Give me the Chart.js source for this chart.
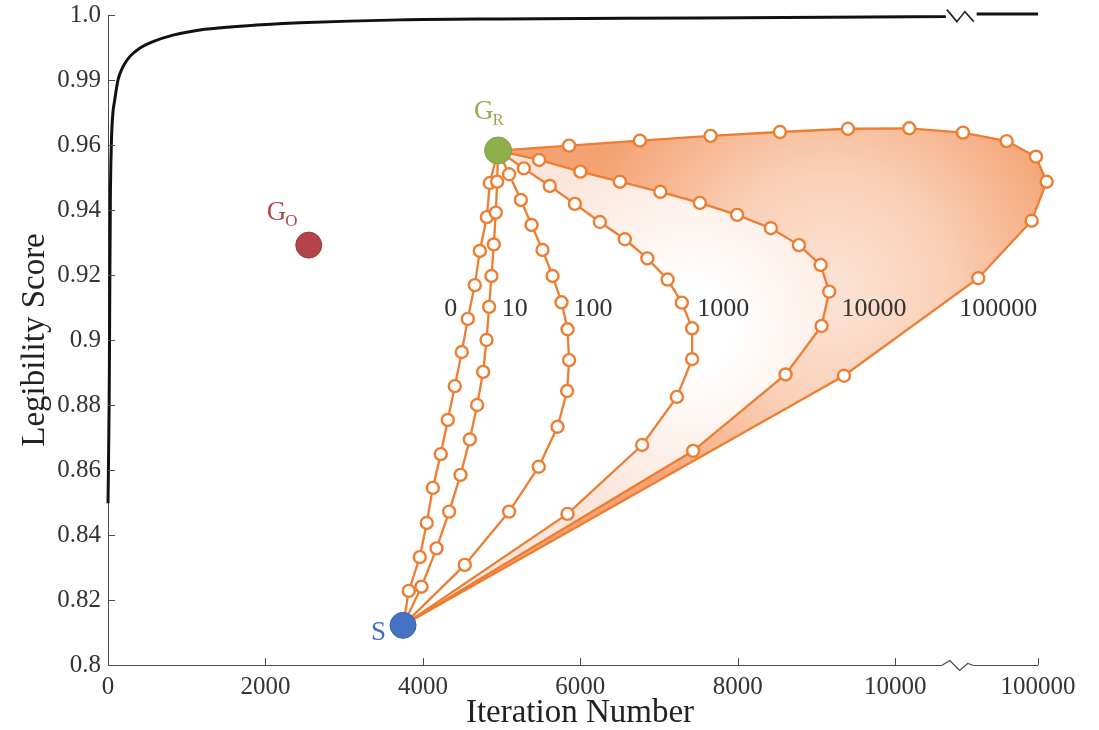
<!DOCTYPE html>
<html><head><meta charset="utf-8">
<script src="https://cdn.jsdelivr.net/npm/chart.js@4.4.1/dist/chart.umd.min.js"></script>
<style>html,body{margin:0;padding:0;background:#fff}#wrap{width:1099px;height:730px}</style>
</head><body><div id="wrap"><canvas id="c" width="1099" height="730"></canvas></div>
<script>
// ---------------- data ----------------
const sPoint  = [3748, 0.8122];
const gRPoint = [4955, 0.9583];
const gOPoint = [2550, 0.9292];

const curveLabels = ['0', '10', '100', '1000', '10000', '100000'];
const curveLabelX = [4354, 5168, 6162, 7814, 9729, 11308];
const curveLabelY = 0.9095;

const curve0X = [3821, 3960, 4049, 4126, 4227, 4316, 4405, 4494, 4570, 4659, 4723, 4812, 4850];
const curve0Y = [0.8228, 0.8332, 0.8437, 0.8545, 0.8649, 0.8754, 0.8858, 0.8963, 0.9065, 0.9169, 0.9274, 0.9378, 0.9483];
const curve10X = [3982, 4173, 4333, 4478, 4596, 4689, 4765, 4808, 4841, 4871, 4901, 4926, 4943];
const curve10Y = [0.8241, 0.8359, 0.8472, 0.8585, 0.8694, 0.8800, 0.8902, 0.9000, 0.9102, 0.9197, 0.9294, 0.9392, 0.9487];
const curve100X = [4532, 5095, 5472, 5710, 5832, 5857, 5837, 5761, 5647, 5519, 5380, 5244, 5095];
const curve100Y = [0.8308, 0.8472, 0.8610, 0.8733, 0.8843, 0.8938, 0.9033, 0.9116, 0.9197, 0.9277, 0.9354, 0.9431, 0.9510];
const curve1000X = [5837, 6785, 7226, 7420, 7420, 7289, 7108, 6851, 6565, 6248, 5930, 5612, 5282];
const curve1000Y = [0.8465, 0.8677, 0.8825, 0.8941, 0.9036, 0.9115, 0.9186, 0.9251, 0.9310, 0.9363, 0.9419, 0.9474, 0.9528];
const curve10000X = [7433, 8607, 9064, 9161, 9052, 8776, 8420, 7991, 7518, 7016, 6502, 6000, 5476];
const curve10000Y = [0.8659, 0.8894, 0.9043, 0.9149, 0.9231, 0.9292, 0.9344, 0.9385, 0.9422, 0.9456, 0.9487, 0.9518, 0.9554];
const curve100000X = [9348, 11054, 11733, 11923, 11787, 11415, 10860, 10178, 9399, 8535, 7654, 6756, 5857];
const curve100000Y = [0.8890, 0.9190, 0.9367, 0.9487, 0.9564, 0.9618, 0.9657, 0.9677, 0.9675, 0.9660, 0.9642, 0.9620, 0.9598];

const blackX = [0, 15, 22, 30, 43, 60, 85, 127, 191, 276, 403, 572, 826, 1165, 1588, 2013, 2436, 3706, 4977, 7518, 10643, 10800, 11034, 11813];
const blackY = [0.8498, 0.8815, 0.9123, 0.9431, 0.9609, 0.9738, 0.9807, 0.9900, 0.99205, 0.9936, 0.9949, 0.9959, 0.9969, 0.9977, 0.9982, 0.99855, 0.9988, 0.99925, 0.9994, 0.99955, 0.99975, null, 1.00015, 1.00015];

const yTickValues = [0.8, 0.82, 0.84, 0.86, 0.88, 0.9, 0.92, 0.94, 0.96, 0.99, 1.0];
const yTickLabels = ['0.8', '0.82', '0.84', '0.86', '0.88', '0.9', '0.92', '0.94', '0.96', '0.99', '1.0'];
const xTickValues = [0, 2000, 4000, 6000, 8000, 10000, 11813];
const xTickLabels = ['0', '2000', '4000', '6000', '8000', '10000', '100000'];
const xBreak = [10590, 10996];
const xAxisMax = 11991;

// ---------------- broken y scale (0.96-0.99 and 0.99-1.0 compressed) ----------------
function toU(v) { if (v <= 0.96) return v; if (v <= 0.99) return 0.96 + (v - 0.96) * 2 / 3; return 0.98 + (v - 0.99) * 2; }
function fromU(u) { if (u <= 0.96) return u; if (u <= 0.98) return 0.96 + (u - 0.96) * 1.5; return 0.99 + (u - 0.98) / 2; }
class BrokenY extends Chart.LinearScale {
  getPixelForValue(v) { return (v === null || v === undefined) ? NaN : super.getPixelForValue(toU(v)); }
  getValueForPixel(p) { return fromU(super.getValueForPixel(p)); }
}
BrokenY.id = 'brokenY';
BrokenY.defaults = Chart.LinearScale.defaults;
Chart.register(BrokenY);

// ---------------- styles ----------------
const ORANGE = '#ED7D31';
const AXIS = '#4a4a4a';
const FONT = 'Liberation Serif';

function pts(xs, ys) { return xs.map((x, i) => ({x: x, y: ys[i]})); }
function curvePts(xs, ys) { return [{x: sPoint[0], y: sPoint[1]}].concat(pts(xs, ys), [{x: gRPoint[0], y: gRPoint[1]}]); }

const curveXs = [curve0X, curve10X, curve100X, curve1000X, curve10000X, curve100000X];
const curveYs = [curve0Y, curve10Y, curve100Y, curve1000Y, curve10000Y, curve100000Y];

function radial(chart, cxv, cyv, r0, r1, stops) {
  const fallback = stops[stops.length - 1][1];
  const {x, y} = chart.scales;
  if (!x || !y) return fallback;
  const cx = x.getPixelForValue(cxv), cy = y.getPixelForValue(cyv);
  if (!isFinite(cx) || !isFinite(cy)) return fallback;
  const g = chart.ctx.createRadialGradient(cx, cy, r0, cx, cy, r1);
  stops.forEach(s => g.addColorStop(s[0], s[1]));
  return g;
}

const datasets = [];
// dense band between the 10000 and 100000 runs
const band = curvePts(curve10000X, curve10000Y).concat(pts(curve100000X, curve100000Y).reverse(), [{x: sPoint[0], y: sPoint[1]}]);
datasets.push({data: band, showLine: true, fill: 'shape', borderWidth: 0, pointRadius: 0, clip: false, order: 20,
  backgroundColor: c => radial(c.chart, curve10000X[3], curve10000Y[3], 0, 260,
    [[0, 'rgba(252,228,214,1)'], [0.45, 'rgba(250,208,184,1)'], [1, 'rgba(244,162,114,1)']])});
// faint fan of intermediate runs between 1000 and 10000
const fan = curvePts(curve1000X, curve1000Y).concat(pts(curve10000X, curve10000Y).reverse(), [{x: sPoint[0], y: sPoint[1]}]);
datasets.push({data: fan, showLine: true, fill: 'shape', borderWidth: 0, pointRadius: 0, clip: false, order: 19,
  backgroundColor: c => radial(c.chart, curve1000X[4], curve1000Y[4], 40, 190,
    [[0, 'rgba(240,140,90,0)'], [1, 'rgba(240,140,90,0.22)']])});

curveXs.forEach((xs, k) => {
  const n = xs.length + 1;
  datasets.push({
    data: curvePts(xs, curveYs[k]), showLine: true, borderColor: ORANGE, borderWidth: 2.3,
    pointRadius: c => (c.dataIndex === 0 || c.dataIndex === n) ? 0 : 6,
    pointBackgroundColor: '#ffffff', pointBorderColor: ORANGE, pointBorderWidth: 2.4,
    clip: false, order: 10 - k
  });
});

const blackIndex = datasets.length;
datasets.push({data: pts(blackX, blackY), showLine: true, borderColor: '#111111', borderWidth: 3, pointRadius: 0,
  cubicInterpolationMode: 'monotone', spanGaps: false, clip: false, order: 2});

datasets.push({data: [{x: gOPoint[0], y: gOPoint[1]}], pointRadius: 13, pointBackgroundColor: '#B4434A', pointBorderColor: '#9c3a40', pointBorderWidth: 1, order: 1});
datasets.push({data: [{x: gRPoint[0], y: gRPoint[1]}], pointRadius: 13.5, pointBackgroundColor: '#8DB04C', pointBorderColor: '#7c9c42', pointBorderWidth: 1, order: 0});
datasets.push({data: [{x: sPoint[0], y: sPoint[1]}], pointRadius: 13, pointBackgroundColor: '#4472C4', pointBorderColor: '#3a63ad', pointBorderWidth: 1, order: 0});

const decor = {
  id: 'decor',
  afterDraw(chart) {
    const {ctx, chartArea: a, scales: {x, y}} = chart;
    ctx.save();
    const xEnd = x.getPixelForValue(xTickValues[xTickValues.length - 1]);
    const b0 = x.getPixelForValue(xBreak[0]), b1 = x.getPixelForValue(xBreak[1]);
    const ay = Math.round(a.bottom) + 0.5;
    // x axis line with break
    ctx.strokeStyle = AXIS; ctx.lineWidth = 1;
    ctx.beginPath(); ctx.moveTo(a.left, ay); ctx.lineTo(b0, ay); ctx.stroke();
    ctx.beginPath(); ctx.moveTo(b1, ay); ctx.lineTo(xEnd, ay); ctx.stroke();
    ctx.beginPath();
    ctx.moveTo(b0, ay); ctx.lineTo(b0 + 8, ay - 5); ctx.lineTo(b0 + 18, ay + 5); ctx.lineTo(b0 + 26, ay - 2); ctx.lineTo(b1, ay);
    ctx.lineWidth = 1.2; ctx.stroke();
    // inward tick marks
    ctx.lineWidth = 1;
    x.ticks.forEach((t, i) => {
      const px = Math.round(x.getPixelForTick(i)) + 0.5;
      ctx.beginPath(); ctx.moveTo(px, a.bottom); ctx.lineTo(px, a.bottom - 7); ctx.stroke();
    });
    y.ticks.forEach((t, i) => {
      const py = Math.round(y.getPixelForTick(i)) + 0.5;
      ctx.beginPath(); ctx.moveTo(a.left, py); ctx.lineTo(a.left + 7, py); ctx.stroke();
    });
    // black curve break
    const meta = chart.getDatasetMeta(blackIndex);
    const gap = blackY.indexOf(null);
    const p0 = meta.data[gap - 1];
    ctx.beginPath();
    ctx.moveTo(p0.x + 1, p0.y - 7); ctx.lineTo(p0.x + 11, p0.y + 5); ctx.lineTo(p0.x + 19, p0.y - 5); ctx.lineTo(p0.x + 28, p0.y + 5);
    ctx.strokeStyle = '#222'; ctx.lineWidth = 1.6; ctx.stroke();
    // run labels
    ctx.fillStyle = '#333'; ctx.font = '26px "' + FONT + '"'; ctx.textAlign = 'center'; ctx.textBaseline = 'middle';
    curveLabels.forEach((s, i) => ctx.fillText(s, x.getPixelForValue(curveLabelX[i]), y.getPixelForValue(curveLabelY)));
    // point labels
    function sub(main, subs, px, py, col) {
      ctx.fillStyle = col; ctx.textAlign = 'left'; ctx.textBaseline = 'alphabetic';
      ctx.font = '27px "' + FONT + '"'; ctx.fillText(main, px, py);
      const w = ctx.measureText(main).width;
      if (subs) { ctx.font = '17px "' + FONT + '"'; ctx.fillText(subs, px + w - 1, py + 6); }
    }
    const sx = x.getPixelForValue(sPoint[0]), sy = y.getPixelForValue(sPoint[1]);
    const rx = x.getPixelForValue(gRPoint[0]), ry = y.getPixelForValue(gRPoint[1]);
    const ox = x.getPixelForValue(gOPoint[0]), oy = y.getPixelForValue(gOPoint[1]);
    sub('S', '', sx - 32, sy + 15, '#3E6EC0');
    sub('G', 'R', rx - 24, ry - 32, '#8DB04C');
    sub('G', 'O', ox - 42, oy - 25, '#B4474D');
    ctx.restore();
  }
};

new Chart(document.getElementById('c'), {
  type: 'scatter',
  data: {datasets: datasets},
  options: {
    responsive: false, animation: false, events: [],
    layout: {padding: {top: 15, right: 1099 - 1052, bottom: 0, left: 0}},
    plugins: {legend: {display: false}, tooltip: {enabled: false}},
    scales: {
      x: {
        type: 'linear', min: 0, max: xAxisMax,
        afterBuildTicks: s => { s.ticks = xTickValues.map(v => ({value: v})); },
        afterFit: s => { s.height = 65; },
        grid: {display: false, drawTicks: false},
        border: {display: false},
        ticks: {callback: (v, i) => xTickLabels[i], autoSkip: false, maxRotation: 0, padding: 7, color: '#333', font: {family: FONT, size: 25}},
        title: {display: true, text: 'Iteration Number', color: '#222', font: {family: FONT, size: 33, lineHeight: 1.0}, padding: {top: 0, bottom: 0}}
      },
      y: {
        type: 'brokenY', min: 0.8, max: 1.0,
        afterBuildTicks: s => { s.ticks = yTickValues.map(v => ({value: v})); },
        afterFit: s => { s.width = 108; },
        grid: {display: false, drawTicks: false},
        border: {display: true, color: AXIS, width: 1},
        ticks: {callback: (v, i) => yTickLabels[i], autoSkip: false, padding: 7, color: '#333', font: {family: FONT, size: 25, lineHeight: 0.6}},
        title: {display: true, text: 'Legibility Score', color: '#222', font: {family: FONT, size: 33}, padding: {top: 16, bottom: 0}}
      }
    }
  },
  plugins: [decor]
});
</script>
</body></html>
